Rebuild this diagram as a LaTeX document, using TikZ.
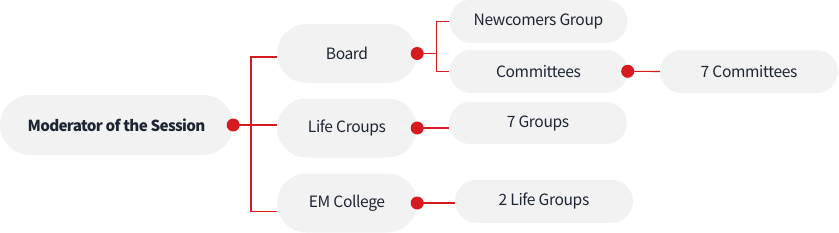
\documentclass[tikz,border=0pt]{standalone}
\usepackage{fontspec}
\setmainfont{Noto Sans CJK KR}[LetterSpace=-2.5]
\usepackage{xcolor}
\usepackage{tikz}
\usetikzlibrary{positioning,calc}
\definecolor{boxgray}{RGB}{242,242,243}
\definecolor{linkred}{RGB}{215,25,32}
\definecolor{inknavy}{RGB}{30,37,50}

\begin{document}
\begin{tikzpicture}[x=1pt, y=-1pt,
    every node/.style={font=\fontsize{15.6}{18}\selectfont, text=inknavy},
    bigbox/.style={fill=boxgray, inner sep=0pt, minimum width=140pt, minimum height=59pt, rounded corners=29.5pt},
    smallbox/.style={fill=boxgray, inner sep=0pt, minimum width=178pt, minimum height=43pt, rounded corners=21.5pt},
    link/.style={draw=linkred, line width=1.1pt}]
  \useasboundingbox (0,0) rectangle (839,233);
  % first level
  \node[bigbox, minimum width=233pt, minimum height=60pt, rounded corners=30pt, font=\fontsize{15.2}{18}\selectfont\bfseries\addfontfeatures{LetterSpace=-4.5}] (mod) at (116.5,125) {Moderator of the Session};
  % second level
  \node[bigbox] (board) at (347,53.5) {Board};
  \node[bigbox] (life) at (347,128) {Life Croups};
  \node[bigbox] (emc) at (347,203) {EM College};
  % third level
  \node[smallbox] (newc) at (538.5,21.3) {Newcomers Group};
  \node[smallbox] (comm) at (538.5,71.3) {Committees};
  \node[smallbox] (comm7) at (749,71.5) {7 Committees};
  \node[smallbox, minimum height=42pt, rounded corners=21pt] (grp7) at (538,123) {7 Groups};
  \node[smallbox] (lg2) at (544,201.3) {2 Life Groups};

  % connectors
  \coordinate (jt) at (251,57);
  \coordinate (jb) at (251,211.7);
  \coordinate (jr) at (436.7,53.5);
  \draw[link] (mod.east) -- (life.west |- mod.east);
  \draw[link] (jt -| board.west) -- (jt) -- (jb) -- (jb -| emc.west);
  \draw[link] (board.east) -- (jr);
  \draw[link] (newc.west) -| (jr) |- (comm.west);
  \draw[link] (comm.east) -- (comm7.west);
  \draw[link] (life.east) -- (life.east -| grp7.west);
  \draw[link] (emc.east) -- (emc.east -| lg2.west);
  \foreach \n in {mod,board,comm,life,emc}
    \fill[linkred] (\n.east) circle (6.5);
\end{tikzpicture}
\end{document}
